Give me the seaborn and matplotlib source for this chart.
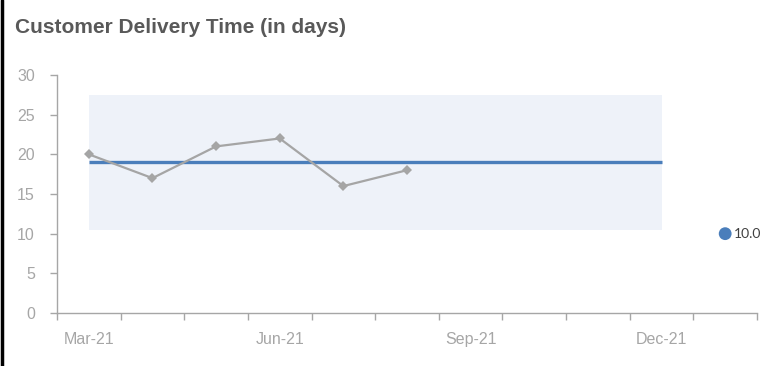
"""Customer delivery time chart."""
import numpy as np
import pandas as pd
import matplotlib
matplotlib.use("Agg")
import matplotlib.pyplot as plt
import seaborn as sns
from matplotlib.lines import Line2D

months = ["Mar-21", "Apr-21", "May-21", "Jun-21", "Jul-21", "Aug-21",
          "Sep-21", "Oct-21", "Nov-21", "Dec-21", "Jan-22"]
actual = [20, 17, 21, 22, 16, 18]
mean_value = 19.0
band_low, band_high = 10.5, 27.5
band_months = months[:10]
target_month = "Jan-22"
target_value = 10.0
yticks = [0, 5, 10, 15, 20, 25, 30]
xlabel_every = 3

GREY_LINE = "#A5A5A5"
BLUE = "#4A7EBB"
BAND = "#EEF2F9"
AXIS = "#A6A6A6"
TICK_TXT = "#A6A6A6"
TITLE = "#595959"

sns.set_style("white")
plt.rcParams["font.family"] = ["Liberation Sans Narrow", "Liberation Sans", "DejaVu Sans"]

pos = {m: i for i, m in enumerate(months)}
df = pd.DataFrame({"x": [pos[m] for m in months[:len(actual)]], "y": actual})

fig = plt.figure(figsize=(7.69, 3.66), dpi=100)
ax = fig.add_axes([57 / 769, 53 / 366, 700 / 769, 238 / 366])

band_x = [pos[band_months[0]], pos[band_months[-1]]]
ax.fill_between(band_x, band_low, band_high, color=BAND, lw=0, zorder=1)
ax.plot(band_x, [mean_value, mean_value], color=BLUE, lw=2.4, zorder=3,
        solid_capstyle="butt")
sns.lineplot(data=df, x="x", y="y", ax=ax, color=GREY_LINE, lw=1.6,
             marker="D", markersize=5, markeredgewidth=0, zorder=4)
tdf = pd.DataFrame({"x": [pos[target_month]], "y": [target_value]})
sns.scatterplot(data=tdf, x="x", y="y", ax=ax, color=BLUE, s=85,
                edgecolor="none", zorder=5)
ax.annotate(f"{target_value:.1f}", (pos[target_month], target_value),
            xytext=(6, 0), textcoords="offset points", va="center",
            ha="left", fontsize=10, color="#404040",
            family=["Lato", "DejaVu Sans"])

ax.set_xlim(-0.5, len(months) - 0.5)
ax.set_ylim(0, 30)
ax.set_yticks(yticks)
ax.set_yticklabels([str(v) for v in yticks])
ax.set_xticks(np.arange(-0.5, len(months), 1.0))
ax.set_xticklabels([])
ax.set_xticks(np.arange(0, len(months), xlabel_every), minor=True)
ax.set_xticklabels(months[::xlabel_every], minor=True)
ax.tick_params(axis="x", which="major", bottom=True, direction="out",
               length=5, width=1, color=AXIS)
ax.tick_params(axis="x", which="minor", bottom=True, length=0, pad=14,
               labelsize=11.5, labelcolor=TICK_TXT)
ax.tick_params(axis="y", left=True, direction="out", length=5, width=1,
               color=AXIS, pad=11, labelsize=11.5, labelcolor=TICK_TXT)
ax.set_xlabel("")
ax.set_ylabel("")
for side in ["top", "right"]:
    ax.spines[side].set_visible(False)
for side in ["left", "bottom"]:
    ax.spines[side].set_color(AXIS)
    ax.spines[side].set_linewidth(1)

fig.text(15 / 769, 1 - 33 / 366, "Customer Delivery Time (in days)",
         fontsize=15, fontweight="bold", color=TITLE, va="baseline",
         ha="left")
fig.add_artist(Line2D([1.5 / 769, 1.5 / 769], [0, 1], color="black",
                      lw=2.5, transform=fig.transFigure))

fig.savefig("out.png", dpi=100)
plt.close(fig)
